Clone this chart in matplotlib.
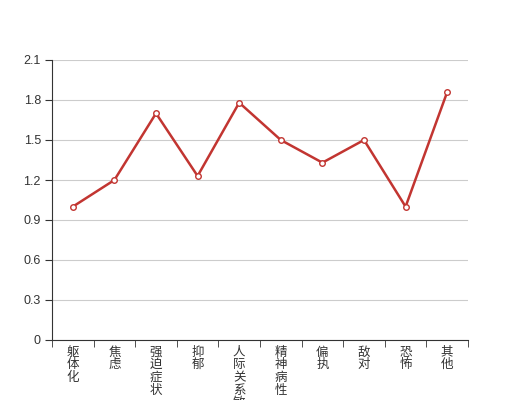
import matplotlib
matplotlib.use('Agg')
import matplotlib.pyplot as plt
import numpy as np

plt.rcParams['font.family'] = ['Noto Sans CJK SC', 'DejaVu Sans']

# data
categories = ['躯体化', '焦虑', '强迫症状', '抑郁', '人际关系敏感',
              '精神病性', '偏执', '敌对', '恐怖', '其他']
values = [1.0, 1.2, 1.70, 1.23, 1.78, 1.50, 1.33, 1.50, 1.0, 1.86]
yticks = [0, 0.3, 0.6, 0.9, 1.2, 1.5, 1.8, 2.1]

fig = plt.figure(figsize=(5.2, 4), dpi=100)
ax = fig.add_axes([0.1, 0.15, 0.8, 0.7])

x = np.arange(len(categories))
ax.plot(x, values, color='#c23531', lw=1.8, marker='o', ms=4,
        mfc='white', mec='#c23531', mew=1, zorder=3)

ax.set_xlim(-0.5, len(categories) - 0.5)
ax.set_ylim(0, 2.1)
ax.set_yticks(yticks)
ax.set_yticklabels(['0' if v == 0 else f'{v:.1f}' for v in yticks],
                   family=['Liberation Sans', 'DejaVu Sans'])
ax.grid(axis='y', color='#cccccc', lw=0.8)
ax.set_axisbelow(True)

ax.set_xticks(x)
ax.set_xticklabels(['\n'.join(c) for c in categories], va='top',
                   linespacing=0.97)
ax.set_xticks(np.arange(len(categories) + 1) - 0.5, minor=True)
ax.tick_params(axis='x', which='major', length=0, pad=4,
               labelsize=9, labelcolor='#333333')
ax.tick_params(axis='x', which='minor', length=5, color='#333333')
ax.tick_params(axis='y', length=5, color='#333333', labelsize=9,
               labelcolor='#333333', pad=3)

for s in ['top', 'right']:
    ax.spines[s].set_visible(False)
for s in ['left', 'bottom']:
    ax.spines[s].set_color('#333333')

fig.savefig('out.png', dpi=100)
